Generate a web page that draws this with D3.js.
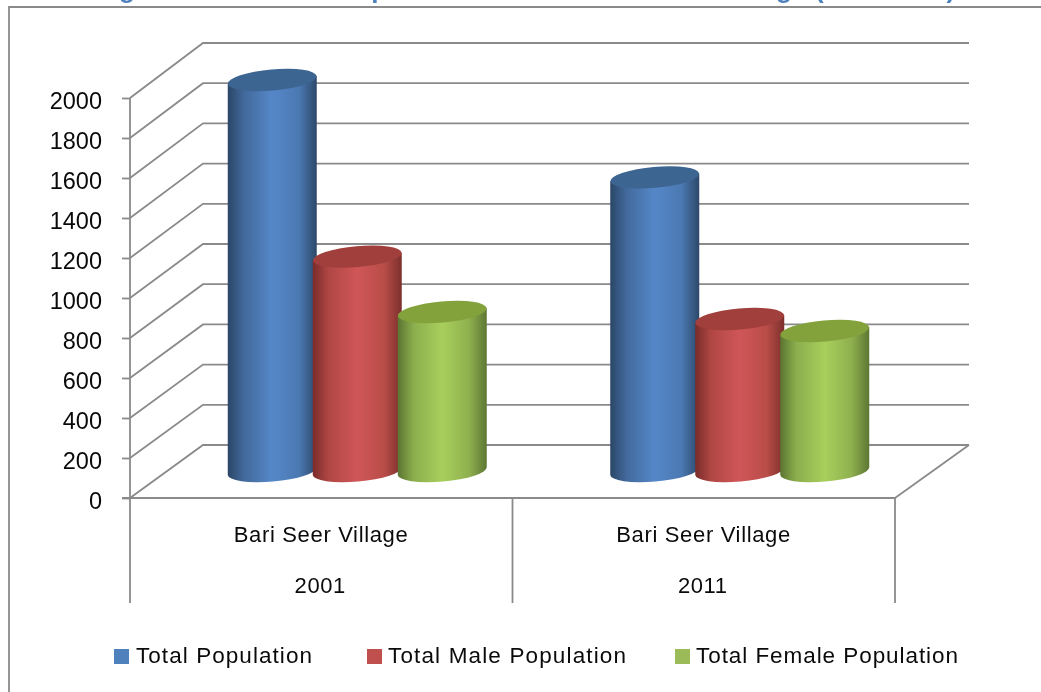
<!DOCTYPE html>
<html><head><meta charset="utf-8">
<script src="https://cdn.jsdelivr.net/npm/d3@7"></script>
<style>html,body{margin:0;padding:0;background:#fff;overflow:hidden}svg{display:block;filter:blur(0.4px)}text{font-family:"Liberation Sans",Arial,sans-serif;fill:#0a0a0a}</style>
</head><body><svg id="c" width="1041" height="692"></svg>
<script>
const years = ["2001", "2011"];
const village = "Bari Seer Village";
const seriesNames = ["Total Population", "Total Male Population", "Total Female Population"];
const totalPopulation = [1955, 1468];
const malePopulation = [1072, 760];
const femalePopulation = [795, 700];
const tickValues = [0,200,400,600,800,1000,1200,1400,1600,1800,2000];
const seriesValues = [totalPopulation, malePopulation, femalePopulation];
const baseColors = ["#4f81bd", "#c0504d", "#9bbb59"];
const grad = [
  ["#2b4667","#42699b","#5587c8","#4b79b2","#2d4869"],
  ["#7a2c2a","#b04744","#d05658","#b94d48","#7c2f2c"],
  ["#5b7532","#8cae4d","#a8cf5c","#8fb04e","#5d7733"]];
const topColors = ["#3d6591", "#a03f3b", "#83a23c"];

const svg = d3.select("#c");
const defs = svg.append("defs");
grad.forEach((g,i)=>{
  const lg = defs.append("linearGradient").attr("id","g"+i);
  [0,.18,.5,.8,1].forEach((o,j)=>lg.append("stop").attr("offset",o).attr("stop-color",g[j]));
});
const gridCol = "#8a8a8a";
const W = {l:130, r:895, depthX:73, depthY:53};
const yFront = d3.scaleLinear().domain([0,2000]).range([498,98]);
const yBack = d3.scaleLinear().domain([0,2000]).range([445,43]);
const yCyl = d3.scaleLinear().domain([0,2000]).range([471,71]);
const xGroup = d3.scaleBand().domain(years).range([W.l,W.r]);
const xSeries = d3.scalePoint().domain(seriesNames).range([-85,85]);

// frame
svg.append("path").attr("d","M9,692V7H1041").attr("fill","none").attr("stroke",gridCol).attr("stroke-width",1.8);

// title (cropped at top in the reference)
const title = svg.append("text").attr("y",-2).attr("font-size",26).attr("font-weight","bold").style("fill","#4f81bd");
[["Figure",96],["1:",190],["Total",250],["Population",338],["of",490],["Bari",540],["Seer",620],["Village",723],["(2001-2011)",815]].forEach(([w,x])=>
  title.append("tspan").attr("x",x).text(w));

// walls
const walls = svg.append("g").attr("fill","none").attr("stroke",gridCol).attr("stroke-width",1.8);
walls.selectAll("path").data(tickValues).join("path")
  .attr("d",d=>`M${W.l},${yFront(d)}L${W.l+W.depthX},${yBack(d)}H969`);
walls.append("path").attr("d",`M${W.r},${yFront(0)}L969,${yBack(0)}`);

// y axis
const ax = svg.append("g").attr("transform",`translate(${W.l},0)`)
  .call(d3.axisLeft(yFront).tickValues(tickValues).tickFormat(d3.format("d")).tickSize(8).tickPadding(20));
ax.select(".domain").remove();
ax.selectAll("line").attr("stroke",gridCol).attr("stroke-width",1.8);
ax.selectAll("text").attr("font-size",23.5).attr("dy","0.36em").attr("y",2).style("fill","#0a0a0a");

// category axis
svg.append("path").attr("d",`M${W.l},98V603M122,498H${W.r}M${xGroup("2011")},498V603M${W.r},498V603`)
  .attr("fill","none").attr("stroke",gridCol).attr("stroke-width",1.8);
const cat = svg.append("g").selectAll("g").data(years).join("g");
cat.append("text").attr("x",d=>xGroup(d)+xGroup.bandwidth()/2-.5).attr("y",542).attr("text-anchor","middle")
  .attr("font-size",22).attr("textLength",174).attr("lengthAdjust","spacing").text(village);
cat.append("text").attr("x",d=>xGroup(d)+xGroup.bandwidth()/2-1).attr("y",593).attr("text-anchor","middle")
  .attr("font-size",22).attr("letter-spacing",.6).text(d=>d);

// cylinders
const rx=44.5, ry=10.5, rot=-5, tilt=rx*Math.sin(-rot*Math.PI/180);
years.forEach((yr,yi)=>{
  seriesNames.forEach((s,si)=>{
    const cx = xGroup(yr)+xGroup.bandwidth()/2+W.depthX/2-.5+xSeries(s);
    const v = seriesValues[si][yi];
    const t = yCyl(v), b = yCyl(0);
    const g = svg.append("g");
    g.append("path").attr("fill",`url(#g${si})`)
     .attr("d",`M${cx-rx},${t+tilt}L${cx-rx},${b+tilt}A${rx},${ry} ${rot} 0 0 ${cx+rx},${b-tilt}L${cx+rx},${t-tilt}Z`);
    g.append("ellipse").attr("rx",rx).attr("ry",ry).attr("fill",topColors[si])
     .attr("transform",`translate(${cx},${t}) rotate(${rot})`);
  });
});

// legend
const legX = [114,367,675], legTx=[136,388,696], legLen=[176,238,262];
const leg = svg.append("g").selectAll("g").data(seriesNames).join("g");
leg.append("rect").attr("x",(d,i)=>legX[i]).attr("y",649).attr("width",15).attr("height",15).attr("fill",(d,i)=>baseColors[i]);
leg.append("text").attr("x",(d,i)=>legTx[i]).attr("y",663).attr("font-size",22.5)
  .attr("textLength",(d,i)=>legLen[i]).attr("lengthAdjust","spacing").text(d=>d);
</script></body></html>
